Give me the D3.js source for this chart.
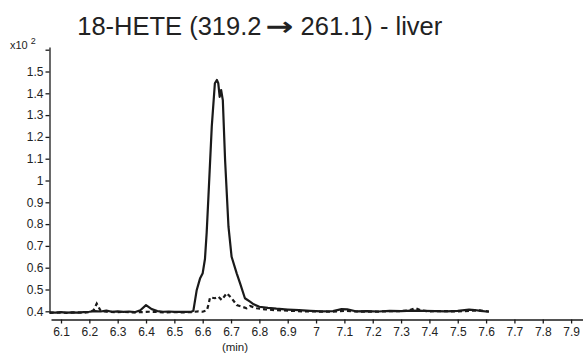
<!DOCTYPE html>
<html>
<head>
<meta charset="utf-8">
<script src="https://cdn.jsdelivr.net/npm/d3@7"></script>
<style>
  body { margin: 0; background: #fff; }
  svg { display: block; }
</style>
</head>
<body>
<div id="chart"></div>
<script>
// sample trace (solid)
const sampleTime = [6.06, 6.08, 6.10, 6.12, 6.14, 6.16, 6.18, 6.20, 6.22, 6.24, 6.26, 6.28, 6.30, 6.32, 6.34, 6.36, 6.38, 6.40, 6.42, 6.44, 6.46, 6.48, 6.50, 6.52, 6.54, 6.56, 6.567,
    6.579, 6.591, 6.60, 6.608, 6.614, 6.62, 6.632, 6.643, 6.65, 6.655, 6.66, 6.665, 6.671, 6.679, 6.691, 6.702, 6.72, 6.732, 6.749, 6.767, 6.78, 6.80, 6.83, 6.86, 6.90, 6.94,
    6.98, 7.02, 7.06, 7.09, 7.11, 7.14, 7.18, 7.22, 7.26, 7.30, 7.34, 7.38, 7.42, 7.46, 7.50, 7.54, 7.56, 7.58, 7.61];
const sampleValue = [0.395, 0.394, 0.396, 0.394, 0.395, 0.394, 0.396, 0.398, 0.401, 0.399, 0.403, 0.398, 0.400, 0.397, 0.399, 0.396, 0.405, 0.428, 0.410, 0.401, 0.398, 0.399, 0.397, 0.398, 0.397, 0.398, 0.402,
    0.498, 0.552, 0.575, 0.64, 0.76, 0.92, 1.247, 1.446, 1.461, 1.446, 1.384, 1.415, 1.369, 1.094, 0.788, 0.65, 0.574, 0.528, 0.46, 0.444, 0.432, 0.421, 0.416, 0.412, 0.408, 0.405,
    0.402, 0.400, 0.401, 0.410, 0.409, 0.400, 0.401, 0.399, 0.402, 0.401, 0.403, 0.402, 0.401, 0.400, 0.402, 0.408, 0.406, 0.402, 0.398];

// control trace (dashed)
const controlTime = [6.06, 6.09, 6.12, 6.15, 6.18, 6.20, 6.215, 6.226, 6.24, 6.26, 6.29, 6.32, 6.35, 6.38, 6.41, 6.44, 6.47, 6.50, 6.53, 6.56, 6.585, 6.60, 6.615,
    6.62, 6.626, 6.643, 6.655, 6.667, 6.685, 6.702, 6.72, 6.755, 6.767, 6.79, 6.82, 6.86, 6.90, 6.95, 7.00, 7.05, 7.10, 7.15, 7.20, 7.25, 7.30, 7.33, 7.35, 7.37,
    7.40, 7.45, 7.50, 7.55, 7.58, 7.61];
const controlValue = [0.393, 0.394, 0.393, 0.395, 0.394, 0.396, 0.405, 0.435, 0.402, 0.398, 0.396, 0.397, 0.395, 0.396, 0.398, 0.397, 0.395, 0.396, 0.395, 0.396, 0.400, 0.398, 0.405,
    0.429, 0.464, 0.46, 0.467, 0.452, 0.483, 0.46, 0.429, 0.414, 0.424, 0.414, 0.409, 0.405, 0.403, 0.400, 0.399, 0.398, 0.402, 0.399, 0.398, 0.400, 0.401, 0.405, 0.415, 0.404,
    0.400, 0.401, 0.399, 0.403, 0.404, 0.399];

const xTicks = [6.1, 6.2, 6.3, 6.4, 6.5, 6.6, 6.7, 6.8, 6.9, 7.0, 7.1, 7.2, 7.3, 7.4, 7.5, 7.6, 7.7, 7.8, 7.9];
const yTicks = [0.4, 0.5, 0.6, 0.7, 0.8, 0.9, 1.0, 1.1, 1.2, 1.3, 1.4, 1.5, 1.6];
const yLabelled = [0.4, 0.5, 0.6, 0.7, 0.8, 0.9, 1.0, 1.1, 1.2, 1.3, 1.4, 1.5];

const width = 583, height = 356;
const font = "Liberation Sans, Arial, sans-serif";
const ink = "#1a1a1a";

const svg = d3.select("#chart").append("svg")
    .attr("width", width)
    .attr("height", height);

const x = d3.scaleLinear()
    .domain([6.0647, 7.942])
    .range([51, 583]);

const y = d3.scaleLinear()
    .domain([0.3922, 1.6124])
    .range([313, 47]);

const fmt = d => String(+d.toFixed(1));

// x axis
const xAxis = svg.append("g")
    .attr("transform", "translate(0,319.5)")
    .call(d3.axisBottom(x).tickValues(xTicks).tickSize(4).tickSizeOuter(0).tickPadding(4).tickFormat(fmt));

// y axis
const yAxis = svg.append("g")
    .attr("transform", "translate(49.5,0)")
    .call(d3.axisLeft(y).tickValues(yTicks).tickSize(4).tickSizeOuter(0).tickPadding(2)
        .tickFormat(d => yLabelled.some(v => Math.abs(v - d) < 1e-9) ? fmt(d) : ""));

[xAxis, yAxis].forEach(a => {
    a.selectAll("path, line").attr("stroke", ink).attr("stroke-width", 1.3);
    a.selectAll("text")
        .style("font-family", font)
        .style("font-size", "12px")
        .attr("fill", "#222");
});

const line = d3.line()
    .x(d => x(d[0]))
    .y(d => y(d[1]));

svg.append("path")
    .datum(controlTime.map((t, i) => [t, controlValue[i]]))
    .attr("fill", "none")
    .attr("stroke", ink)
    .attr("stroke-width", 2.2)
    .attr("stroke-dasharray", "4,3")
    .attr("d", line);

svg.append("path")
    .datum(sampleTime.map((t, i) => [t, sampleValue[i]]))
    .attr("fill", "none")
    .attr("stroke", ink)
    .attr("stroke-width", 2.2)
    .attr("stroke-linejoin", "round")
    .attr("d", line);

// title, with a stretched arrow glyph
const title = svg.append("text")
    .attr("x", 0)
    .attr("y", 35)
    .style("font-family", font)
    .style("font-size", "25.5px")
    .attr("fill", "#222");
title.append("tspan").text("18-HETE (319.2");
title.append("tspan")
    .attr("dx", 4)
    .style("font-family", "DejaVu Sans")
    .style("font-weight", "bold")
    .attr("textLength", 28)
    .attr("lengthAdjust", "spacingAndGlyphs")
    .text("\u2192");
title.append("tspan").text(" 261.1) - liver");
const tb = title.node().getBBox();
title.attr("x", 260 - tb.width / 2);

// multiplier
const mult = svg.append("text")
    .attr("x", 10)
    .attr("y", 49)
    .style("font-family", font)
    .style("font-size", "11px")
    .attr("fill", "#222");
mult.append("tspan").text("x10 ");
mult.append("tspan").attr("dy", -5).style("font-size", "9px").text("2");

// x unit
svg.append("text")
    .attr("x", 235)
    .attr("y", 351)
    .attr("text-anchor", "middle")
    .style("font-family", font)
    .style("font-size", "11.5px")
    .attr("fill", "#222")
    .text("(min)");
</script>
</body>
</html>
